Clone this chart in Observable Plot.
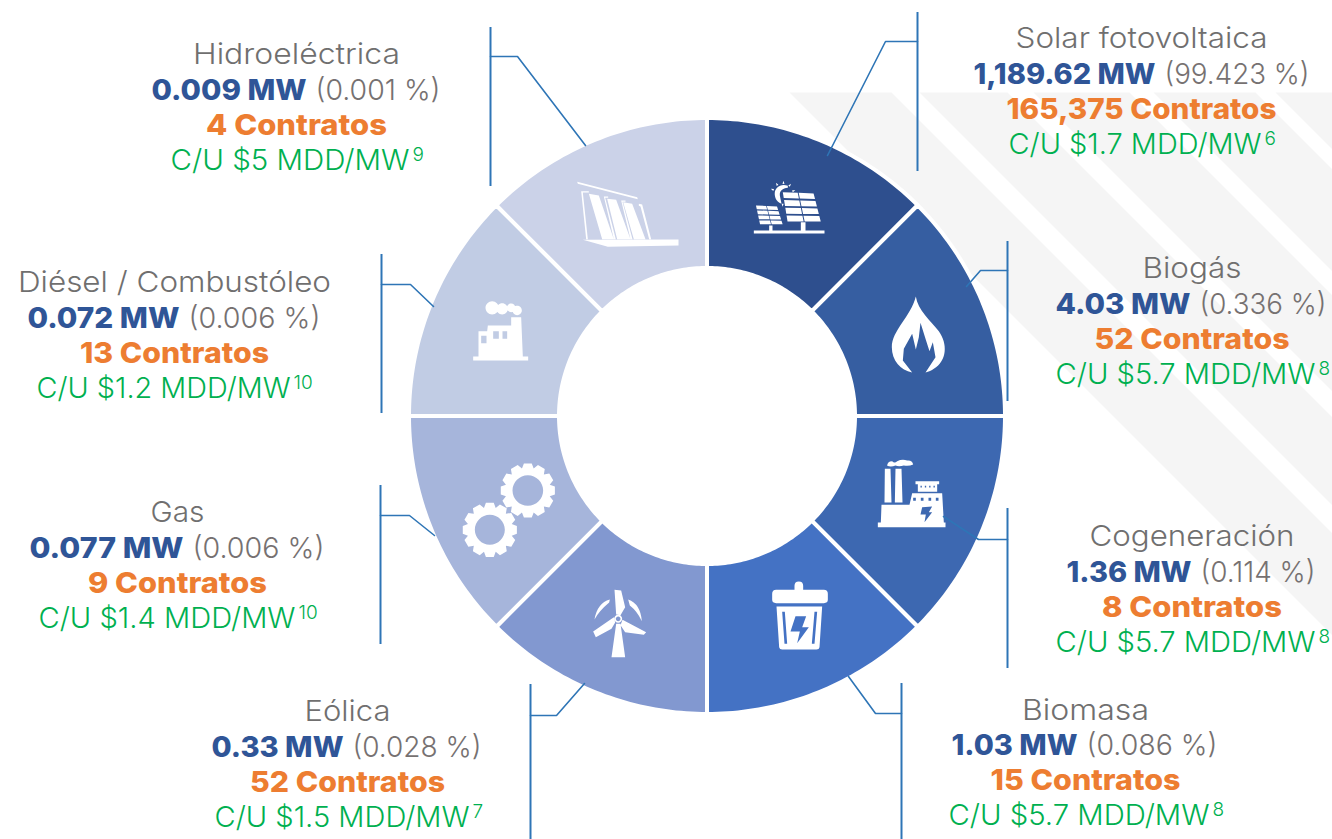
<!DOCTYPE html>
<html lang="es">
<head>
<meta charset="utf-8">
<title>Generación distribuida por tecnología</title>
<script src="https://cdn.jsdelivr.net/npm/d3@7"></script>
<script src="https://cdn.jsdelivr.net/npm/@observablehq/plot@0.6"></script>
<style>
  html, body { margin: 0; padding: 0; background: #fff; overflow: hidden; }
  #chart svg { display: block; }
  #chart text { font-family: Inter, "Open Sans", sans-serif; }
</style>
</head>
<body>
<div id="chart"></div>
<script>
// ---------- Data ----------
const technologies = ["Solar fotovoltaica", "Biogás", "Cogeneración", "Biomasa", "Eólica", "Gas", "Diésel / Combustóleo", "Hidroeléctrica"];
const capacityLabels = ["1,189.62 MW", "4.03 MW", "1.36 MW", "1.03 MW", "0.33 MW", "0.077 MW", "0.072 MW", "0.009 MW"];
const shareLabels = ["(99.423 %)", "(0.336 %)", "(0.114 %)", "(0.086 %)", "(0.028 %)", "(0.006 %)", "(0.006 %)", "(0.001 %)"];
const contractLabels = ["165,375 Contratos", "52 Contratos", "8 Contratos", "15 Contratos", "52 Contratos", "9 Contratos", "13 Contratos", "4 Contratos"];
const costLabels = ["C/U $1.7 MDD/MW", "C/U $5.7 MDD/MW", "C/U $5.7 MDD/MW", "C/U $5.7 MDD/MW", "C/U $1.5 MDD/MW", "C/U $1.4 MDD/MW", "C/U $1.2 MDD/MW", "C/U $5 MDD/MW"];
const footnotes = ["6", "8", "8", "8", "7", "10", "10", "9"];

// ---------- Styles and layout (px-scale units of the x and y scales) ----------
const sliceColors = ["#2E4F8E", "#365EA1", "#3D68B1", "#4472C4", "#8298D0", "#A6B5DB", "#C1CCE4", "#CBD2E8"];
const W = 1332, H = 839;
const ring = {cx: 706.5, cy: 415.5, outer: 298, inner: 148};
const labelCenter = [1141, 1191.5, 1191.5, 1085, 347, 177, 174, 296];
const labelTop = [39, 269, 537, 710.5, 712, 513, 283, 55];
const boldEnd = [1155, 1190, 1191, 1077, 343, 183, 179, 306];
const costEnd = [1261, 1315, 1315, 1209, 469, 295, 290, 409];
// Rendered widths of each text run in the reference (Montserrat is wider than Inter)
const titleWidths = [252, 99, 205, 127, 86, 54, 313, 207];
const capacityWidths = [182, 135, 125, 126, 132, 154, 152, 155];
const shareWidths = [145, 127, 115, 131, 129, 132, 132, 125];
const contractWidths = [270, 195, 180, 190, 195, 179, 189, 181];
const costWidths = [253, 260, 260, 261, 255, 257, 254, 239];
const leaderBars = [[917, 12, 171], [1007, 241, 401], [1007, 508, 668], [901, 683, 839], [530, 684, 839], [380, 485, 644], [381, 254, 413], [490, 27, 186]];
const leaderElbows = [
  [[917, 41], [885, 41], [827, 155]],
  [[1007, 270], [980, 270], [966, 286]],
  [[1007, 539], [978, 539], [943, 516]],
  [[901, 713], [875, 713], [848, 676]],
  [[530, 715], [556, 715], [584, 683]],
  [[380, 515], [409, 515], [434, 535]],
  [[381, 284], [410, 284], [433, 306]],
  [[490, 56], [517, 56], [585, 145]]
];
const stripeEdges = [[697, 799], [827, 915], [941, 1037], [1061, 1163], [1183, 1240]];
const stripeTop = 92;

// ---------- Ring geometry through d3.pie ----------
const pie = d3.pie().sort(null).value(() => 1)(technologies);
const wedgePoints = pie.flatMap((a, i) => {
  const steps = d3.range(0, 46).map(k => a.startAngle + (a.endAngle - a.startAngle) * k / 45);
  const at = r => t => ({name: technologies[i], x: ring.cx + r * Math.sin(t), y: ring.cy - r * Math.cos(t)});
  return [...steps.map(at(ring.outer)), ...steps.reverse().map(at(ring.inner))];
});
const stripePoints = stripeEdges.flatMap(([a, b], i) => [
  {i, x: a + stripeTop, y: stripeTop}, {i, x: b + stripeTop, y: stripeTop},
  {i, x: W, y: W - b}, {i, x: W, y: W - a}
]);
const elbowPoints = leaderElbows.flatMap((pts, i) => pts.map(([x, y]) => ({i, x, y})));

// ---------- Icons: custom Plot.dot symbols drawn in a local 3x grid ----------
function pathSymbol(d) {
  const tokens = d.match(/[MLQCZ]|-?[\d.]+/g);
  return {draw(c) {
    let i = 0;
    const n = () => +tokens[i++] / 3;
    while (i < tokens.length) {
      const t = tokens[i++];
      if (t === "M") c.moveTo(n(), n());
      else if (t === "L") c.lineTo(n(), n());
      else if (t === "Q") c.quadraticCurveTo(n(), n(), n(), n());
      else if (t === "C") c.bezierCurveTo(n(), n(), n(), n(), n(), n());
      else if (t === "Z") c.closePath();
    }
  }};
}
const rectP = (x0, y0, x1, y1) => `M${x0},${y0} L${x1},${y0} L${x1},${y1} L${x0},${y1} Z `;
const polyP = pts => "M" + pts.map(p => p.join(",")).join(" L") + " Z ";
const circleP = (x, y, r) => `M${x - r},${y} C${x - r},${y - .55 * r} ${x - .55 * r},${y - r} ${x},${y - r} C${x + .55 * r},${y - r} ${x + r},${y - .55 * r} ${x + r},${y} C${x + r},${y + .55 * r} ${x + .55 * r},${y + r} ${x},${y + r} C${x - .55 * r},${y + r} ${x - r},${y + .55 * r} ${x - r},${y} Z `;
function gearP(cx, cy, r0, r1, teeth) {
  const pts = [];
  for (let k = 0; k < teeth; ++k) {
    const a = 2 * Math.PI * k / teeth, w = Math.PI / teeth;
    [[r0, -w], [r1, -w * .55], [r1, w * .55], [r0, w]].forEach(([r, o]) => pts.push([cx + r * Math.cos(a + o), cy + r * Math.sin(a + o)]));
  }
  return polyP(pts);
}
function panelP(tl, tr, br, bl, cols, rows) {
  const mix = (u, v) => [0, 1].map(k => (tl[k] * (1 - u) + tr[k] * u) * (1 - v) + (bl[k] * (1 - u) + br[k] * u) * v);
  let s = "";
  for (let c = 0; c < cols; ++c) for (let r = 0; r < rows; ++r) {
    const u0 = c / cols + .015, u1 = (c + 1) / cols - .015, v0 = r / rows + .03, v1 = (r + 1) / rows - .03;
    s += polyP([mix(u0, v0), mix(u1, v0), mix(u1, v1), mix(u0, v1)]);
  }
  return s;
}
const sunRays = d3.range(8).map(k => {
  const a = -2.75 + k * .62, cx = 157, cy = 100;
  const p = (r, o) => [cx + r * Math.cos(a + o), cy + r * Math.sin(a + o)];
  return polyP([p(30, -.1), p(39, 0), p(30, .1)]);
}).join("");
const icons = [
  {name: technologies[0], x: 730, y: 160,
   white: rectP(70, 210, 282, 219) + rectP(116, 195, 126, 211) + rectP(211, 185, 225, 211) +
     panelP([75, 133], [140, 136], [158, 193], [88, 193], 2, 4) +
     panelP([155, 92], [250, 96], [273, 186], [170, 186], 2, 4) +
     "M172,76 C150,68 130,82 133,104 C135,118 143,126 153,129 L149,110 C145,95 152,84 172,82 Z " + sunRays},
  {name: technologies[1], x: 730, y: 160,
   white: "M556,408 C562,450 600,480 625,512 C652,550 650,600 610,625 C603,630 595,634 585,636 L615,590 L607,545 L597,572 L585,535 L570,487 L565,530 L556,567 L545,520 L520,565 L517,600 L545,636 C510,628 484,600 484,560 C484,510 540,470 556,408 Z"},
  {name: technologies[2], x: 740, y: 450,
   white: rectP(412, 216, 615, 230) + "M423,163 L507,163 L515,128 L605,128 L610,216 L421,216 Z " + polyP([[433, 55], [450, 55], [453, 156], [432, 156]]) + polyP([[465, 55], [483, 55], [486, 156], [463, 156]]) +
     rectP(532, 100, 590, 124) + rectP(525, 92, 596, 101) +
     "M440,46 Q440,32 455,32 Q462,40 470,32 Q485,25 500,30 Q515,28 518,42 Q505,48 490,45 Q475,50 465,45 Q452,50 440,46 Z",
   detail: [522, 545, 568, 590].map(x => rectP(x - 4, 142, x + 4, 151)).join("") + [542, 555, 568, 581].map(x => rectP(x - 2, 106, x + 2, 111)).join("") +
     polyP([[545, 170], [575, 168], [565, 185], [575, 185], [552, 215], [556, 192], [540, 192]])},
  {name: technologies[3], x: 740, y: 450,
   white: "M162,418 L162,406 Q162,393 175,393 Q188,393 188,406 L188,418 L250,418 Q262,418 262,430 L262,448 Q262,458 250,458 L107,458 Q95,458 95,448 L95,430 Q95,418 107,418 Z M108,468 L245,468 L237,590 Q236,597 228,597 L125,597 Q117,597 116,590 Z",
   detail: polyP([[125, 484], [133, 484], [140, 580], [132, 580]]) + polyP([[222, 484], [230, 484], [222, 580], [214, 580]]) + polyP([[165, 497], [197, 497], [185, 530], [205, 530], [170, 578], [178, 543], [150, 543]])},
  {name: technologies[4], x: 450, y: 450,
   white: polyP([[497, 520], [510, 520], [524, 620], [483, 620]]) + polyP([[492, 418], [512, 420], [524, 470], [510, 494], [497, 492]]) +
     polyP([[490, 500], [428, 543], [436, 560], [483, 535], [494, 516]]) + polyP([[516, 508], [587, 545], [580, 553], [524, 545], [510, 524]]) +
     "M478,447 Q440,458 432,507 Q445,482 476,456 Z M533,447 Q570,460 574,512 Q560,482 538,465 Z " + circleP(503, 505, 12),
   detail: circleP(503, 505, 7)},
  {name: technologies[5], x: 450, y: 450,
   white: gearP(232, 120, 68, 82, 12) + gearP(118, 238, 68, 82, 12),
   detail: circleP(232, 120, 46) + circleP(118, 238, 45)},
  {name: technologies[6], x: 450, y: 170,
   white: rectP(68, 558, 233, 570) + "M84,482 L110,482 L112,465 L182,465 L182,440 L212,440 L217,558 L84,558 Z " + circleP(125, 412, 20) + circleP(155, 415, 17) + circleP(182, 412, 13) + circleP(200, 420, 14),
   detail: rectP(92, 496, 108, 518) + rectP(128, 482, 145, 505) + rectP(156, 482, 170, 505)},
  {name: technologies[7], x: 450, y: 170,
   white: polyP([[380, 34], [560, 80], [562, 86], [382, 40]]) + polyP([[397, 208], [684, 207], [684, 225], [472, 229]]) +
     polyP([[392, 62], [415, 62], [415, 66], [397, 66], [412, 206], [407, 206]]) +
     polyP([[415, 70], [445, 75], [490, 206], [455, 206]]) + polyP([[460, 78], [473, 78], [473, 82], [464, 82], [496, 206], [490, 206]]) +
     polyP([[470, 85], [497, 88], [540, 206], [500, 206]]) + polyP([[512, 90], [525, 90], [525, 94], [516, 94], [546, 206], [540, 206]]) +
     polyP([[518, 95], [545, 100], [585, 206], [550, 206]]) + polyP([[565, 100], [575, 102], [602, 206], [596, 206], [570, 108], [565, 106]])}
];

// ---------- Text rows ----------
const rows = technologies.map((name, i) => ({
  name, capacity: capacityLabels[i], share: shareLabels[i], contracts: contractLabels[i], cost: costLabels[i], note: footnotes[i],
  x: labelCenter[i], y0: labelTop[i] - 0.5, y1: labelTop[i] + 35, y2: labelTop[i] + 70, y3: labelTop[i] + 105,
  bold: boldEnd[i], costX: costEnd[i]
}));

const lightFont = {fontSize: 29, fontWeight: 300};
const boldFont = {fontSize: 29, fontWeight: 800};
const plot = Plot.plot({
  width: W, height: H, margin: 0,
  x: {domain: [0, W], range: [0, W], axis: null},
  y: {domain: [0, H], range: [0, H], axis: null},
  color: {domain: technologies, range: sliceColors},
  marks: [
    // background stripes
    Plot.line(stripePoints, {x: "x", y: "y", z: "i", fill: "#F5F5F5", stroke: null, curve: "linear-closed"}),
    // ring
    Plot.line(wedgePoints, {x: "x", y: "y", z: "name", fill: "name", stroke: "white", strokeWidth: 4, curve: "linear-closed"}),
    // icons
    ...icons.map(d => Plot.dot([d], {x: "x", y: "y", r: 1, symbol: pathSymbol(d.white), fill: "white", stroke: null})),
    ...icons.filter(d => d.detail).map(d => Plot.dot([d], {x: "x", y: "y", r: 1, symbol: pathSymbol(d.detail), fill: "name", stroke: null})),
    // leaders
    Plot.ruleX(leaderBars, {x: d => d[0], y1: d => d[1], y2: d => d[2], stroke: "#2E75B6", strokeWidth: 2}),
    Plot.line(elbowPoints, {x: "x", y: "y", z: "i", stroke: "#2E75B6", strokeWidth: 1.6, strokeLinejoin: "miter"}),
    // labels
    Plot.text(rows, {x: "x", y: "y0", text: "name", fill: "#706F6F", ...lightFont}),
    Plot.text(rows, {x: "bold", y: "y1", text: "capacity", textAnchor: "end", fill: "#2F5597", ...boldFont}),
    Plot.text(rows, {x: d => d.bold + 9, y: "y1", text: "share", textAnchor: "start", fill: "#767171", ...lightFont}),
    Plot.text(rows, {x: "x", y: "y2", text: "contracts", fill: "#ED7D31", ...boldFont}),
    Plot.text(rows, {x: "costX", y: "y3", text: "cost", textAnchor: "end", fill: "#00B050", ...lightFont}),
    Plot.text(rows, {x: d => d.costX + 3, y: d => d.y3 - 6, text: "note", textAnchor: "start", fill: "#00B050", fontSize: 19, fontWeight: 300})
  ]
});
document.getElementById("chart").appendChild(plot);

// Fit the real glyphs of each text run to the width it has in the reference.
const runWidths = [titleWidths, capacityWidths, shareWidths, contractWidths, costWidths];
d3.select(plot).selectAll('g[aria-label="text"]').each(function(_, m) {
  if (!runWidths[m]) return;
  d3.select(this).selectAll("text").each(function(_, i) {
    this.setAttribute("textLength", runWidths[m][i]);
    this.setAttribute("lengthAdjust", "spacingAndGlyphs");
  });
});
</script>
</body>
</html>
